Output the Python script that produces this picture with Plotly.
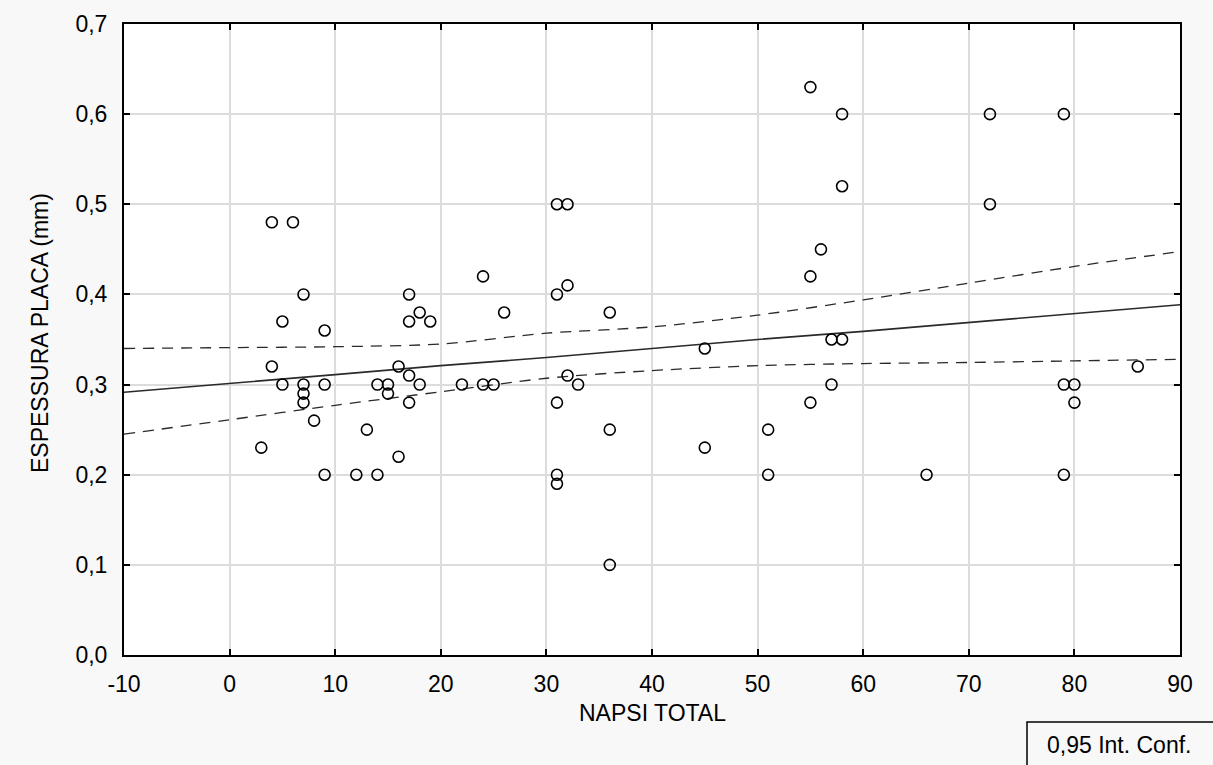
import plotly.graph_objects as go

napsi = [3, 4, 6, 4, 5, 5, 7, 7, 7, 7, 8, 9, 9, 9, 12, 13, 14, 14, 15, 15, 16, 16,
         17, 17, 17, 17, 18, 18, 19, 22, 24, 24, 25, 26, 31, 32, 31, 32, 32, 33, 31,
         31, 31, 36, 36, 36, 45, 45, 51, 51, 55, 58, 58, 56, 55, 55, 57, 58, 57, 72,
         79, 72, 86, 79, 80, 80, 66, 79]
espessura = [0.23, 0.48, 0.48, 0.32, 0.37, 0.30, 0.40, 0.30, 0.29, 0.28, 0.26, 0.36,
             0.30, 0.20, 0.20, 0.25, 0.30, 0.20, 0.30, 0.29, 0.32, 0.22, 0.40, 0.37,
             0.31, 0.28, 0.38, 0.30, 0.37, 0.30, 0.42, 0.30, 0.30, 0.38, 0.50, 0.50,
             0.40, 0.41, 0.31, 0.30, 0.28, 0.20, 0.19, 0.38, 0.25, 0.10, 0.34, 0.23,
             0.25, 0.20, 0.63, 0.60, 0.52, 0.45, 0.42, 0.28, 0.35, 0.35, 0.30, 0.60,
             0.60, 0.50, 0.32, 0.30, 0.30, 0.28, 0.20, 0.20]

# Regression line and 0.95 confidence band
fit_x = [-10, 0, 10, 20, 30, 40, 50, 60, 70, 80, 90]
fit_y = [0.2915, 0.301, 0.311, 0.321, 0.330, 0.340, 0.350, 0.359, 0.369, 0.379, 0.3885]
ci_upper = [0.340, 0.341, 0.342, 0.345, 0.357, 0.364, 0.377, 0.394, 0.4125, 0.431, 0.4476]
ci_lower = [0.245, 0.261, 0.277, 0.292, 0.307, 0.3155, 0.321, 0.3233, 0.3245, 0.3263, 0.328]

x_ticks = [-10, 0, 10, 20, 30, 40, 50, 60, 70, 80, 90]
x_tick_labels = ["-10", "0", "10", "20", "30", "40", "50", "60", "70", "80", "90"]
y_ticks = [0.0, 0.1, 0.2, 0.3, 0.4, 0.5, 0.6, 0.7]
y_tick_labels = ["0,0", "0,1", "0,2", "0,3", "0,4", "0,5", "0,6", "0,7"]

fig = go.Figure()
for band in (ci_upper, ci_lower):
    fig.add_trace(go.Scatter(x=fit_x, y=band, mode="lines",
                             line=dict(color="#2a2a2a", width=1.3, dash="11px,8px",
                                       shape="spline", smoothing=0.8),
                             showlegend=False, hoverinfo="skip"))
fig.add_trace(go.Scatter(x=fit_x, y=fit_y, mode="lines",
                         line=dict(color="#2a2a2a", width=1.6),
                         showlegend=False, hoverinfo="skip"))
fig.add_trace(go.Scatter(x=napsi, y=espessura, mode="markers",
                         marker=dict(symbol="circle-open", size=11, color="black",
                                     line=dict(width=1.6, color="black")),
                         showlegend=False))

font_family = "Liberation Sans, Arial, sans-serif"
axis_common = dict(showgrid=True, gridcolor="#dcdcdc", gridwidth=1.5,
                   showline=True, linecolor="black", linewidth=2, mirror="ticks",
                   ticks="inside", ticklen=6, tickwidth=2, tickcolor="black",
                   zeroline=False, title=dict(text=""),
                   tickfont=dict(size=23, color="black", family=font_family))

L, R, T, B = 124, 1180, 24, 655
W, H = R - L, B - T


def px(xp):
    return (xp - L) / W


def py(yp):
    return (B - yp) / H


fig.update_layout(
    width=1213, height=765,
    margin=dict(l=L, r=1213 - R, t=T, b=765 - B),
    paper_bgcolor="#f8f8f8",
    plot_bgcolor="white",
    font=dict(family=font_family, color="black", size=23),
    xaxis=dict(range=[-10, 90], tickvals=x_ticks, ticktext=x_tick_labels,
               ticklabelstandoff=7, **axis_common),
    yaxis=dict(range=[0, 0.7], tickvals=y_ticks, ticktext=y_tick_labels,
               ticklabelstandoff=10, **axis_common),
    shapes=[dict(type="rect", xref="paper", yref="paper",
                 x0=px(1027), x1=px(1216), y0=py(768), y1=py(722),
                 line=dict(color="black", width=1.5), fillcolor="rgba(0,0,0,0)")],
    annotations=[
        dict(text="NAPSI TOTAL", xref="paper", yref="paper", x=0.5, y=py(713),
             xanchor="center", yanchor="middle", showarrow=False,
             font=dict(size=23, family=font_family, color="black")),
        dict(text="ESPESSURA PLACA (mm)", xref="paper", yref="paper", x=px(40), y=py(333),
             xanchor="center", yanchor="middle", showarrow=False, textangle=-90,
             font=dict(size=23, family=font_family, color="black")),
        dict(text="0,95 Int. Conf.", xref="paper", yref="paper", x=px(1119), y=py(745),
             xanchor="center", yanchor="middle", showarrow=False,
             font=dict(size=23, family=font_family, color="black")),
    ],
)

fig.write_html("out.html")
